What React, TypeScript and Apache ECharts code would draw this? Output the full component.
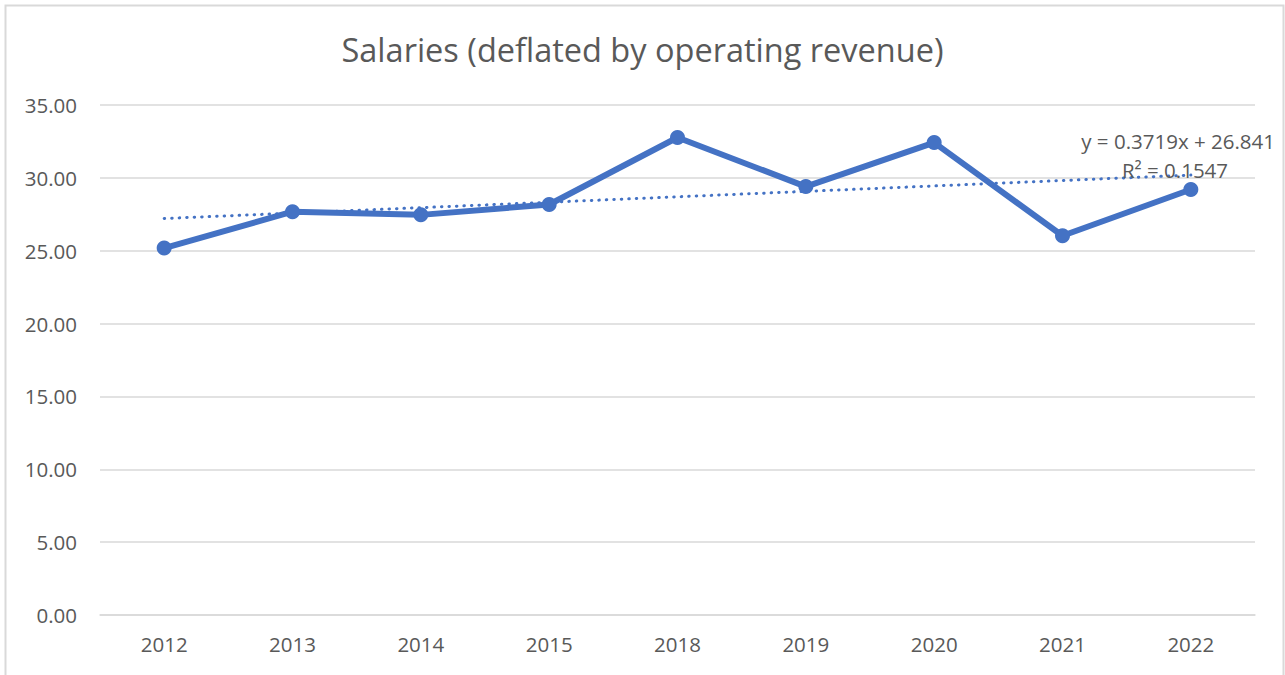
import React, { useEffect, useRef } from "react";
import * as echarts from "echarts";

const categories = ["2012", "2013", "2014", "2015", "2018", "2019", "2020", "2021", "2022"];
const salaryValues = [25.18, 27.68, 27.46, 28.17, 32.77, 29.4, 32.42, 26.03, 29.2];
const trendValues = [27.21, null, null, null, null, null, null, null, 30.19];
const yTicks = { min: 0, max: 35, interval: 5 };
const titleText = "Salaries (deflated by operating revenue)";
const trendEquation = "y = 0.3719x + 26.841";
const trendR2 = "R² = 0.1547";

const FONT = "'Open Sans', 'Noto Sans', sans-serif";
const TEXT = "#595959";
const BLUE = "#4472C4";

export default function App() {
  const ref = useRef<HTMLDivElement>(null);
  useEffect(() => {
    if (!ref.current) return;
    const chart = echarts.init(ref.current, null, { renderer: "svg" });
    chart.setOption({
      animation: false,
      backgroundColor: "#ffffff",
      title: {
        text: titleText,
        left: "center",
        top: 28,
        textStyle: { fontFamily: FONT, fontSize: 32.5, fontWeight: "normal", color: TEXT },
      },
      grid: { left: 100, right: 30, top: 105, bottom: 60 },
      xAxis: {
        type: "category",
        data: categories,
        boundaryGap: true,
        axisLine: { show: true, lineStyle: { color: "#D9D9D9", width: 1.5 } },
        axisTick: { show: false },
        axisLabel: { fontFamily: FONT, fontSize: 20.5, color: TEXT, margin: 18 },
      },
      yAxis: {
        type: "value",
        min: yTicks.min,
        max: yTicks.max,
        interval: yTicks.interval,
        axisLine: { show: false },
        axisTick: { show: false },
        splitLine: { lineStyle: { color: "#D9D9D9", width: 1.5 } },
        axisLabel: {
          fontFamily: FONT,
          fontSize: 20.5,
          color: TEXT,
          margin: 23,
          formatter: (v: number) => v.toFixed(2),
        },
      },
      series: [
        {
          type: "line",
          data: trendValues,
          connectNulls: true,
          symbol: "none",
          lineStyle: { color: BLUE, width: 3, type: [0.5, 7], cap: "round" },
          z: 1,
        },
        {
          type: "line",
          data: salaryValues,
          symbol: "circle",
          symbolSize: 15,
          itemStyle: { color: BLUE },
          lineStyle: { color: BLUE, width: 6 },
          z: 2,
        },
      ],
      graphic: [
        {
          type: "rect",
          shape: { x: 5.5, y: 5.5, width: 1278, height: 690 },
          style: { fill: "none", stroke: "#D9D9D9", lineWidth: 2 },
          silent: true,
        },
        {
          type: "text",
          x: 1275,
          y: 141,
          style: {
            text: trendEquation,
            fontFamily: FONT,
            fontSize: 20.5,
            fill: TEXT,
            align: "right",
            verticalAlign: "middle",
          },
          z: 10,
        },
        {
          type: "text",
          x: 1175,
          y: 170,
          style: {
            text: trendR2,
            fontFamily: FONT,
            fontSize: 20.5,
            fill: TEXT,
            align: "center",
            verticalAlign: "middle",
          },
          z: 10,
        },
      ],
    });
    return () => chart.dispose();
  }, []);
  return (
    <div
      ref={ref}
      style={{ position: "absolute", left: 0, top: 0, width: 1285, height: 675 }}
    />
  );
}
